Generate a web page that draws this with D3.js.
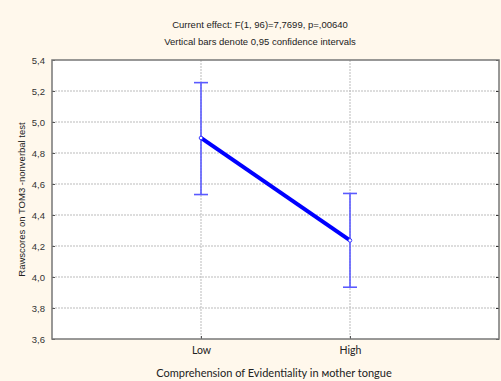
<!DOCTYPE html>
<html>
<head>
<meta charset="utf-8">
<script src="https://cdn.jsdelivr.net/npm/d3@7"></script>
<style>
  body { margin: 0; background: #fff8ec; }
  svg { display: block; }
</style>
</head>
<body>
<div id="chart"></div>
<script>
const categories = ["Low", "High"];
const means = [4.897, 4.236];
const ciLow = [4.532, 3.934];
const ciHigh = [5.254, 4.539];
const yTicks = [3.6, 3.8, 4.0, 4.2, 4.4, 4.6, 4.8, 5.0, 5.2, 5.4];
const titleLines = [
    "Current effect: F(1, 96)=7,7699, p=,00640",
    "Vertical bars denote 0,95 confidence intervals",
];

const width = 501,
    height = 381,
    margin = { top: 60, right: 2, bottom: 42, left: 52 };

const svg = d3
    .select("#chart")
    .append("svg")
    .attr("width", width)
    .attr("height", height);

svg.append("rect")
    .attr("width", width)
    .attr("height", height)
    .attr("fill", "#fff8ec");

const x = d3
    .scalePoint()
    .domain(categories)
    .range([margin.left, width - margin.right])
    .padding(1);

const y = d3
    .scaleLinear()
    .domain([3.6, 5.4])
    .range([height - margin.bottom, margin.top]);

const fmt = (d) => d3.format(".1f")(d).replace(".", ",");

// plot background
svg.append("rect")
    .attr("x", margin.left)
    .attr("y", margin.top)
    .attr("width", width - margin.right - margin.left)
    .attr("height", height - margin.bottom - margin.top)
    .attr("fill", "#fff");

// grid
svg.append("g")
    .selectAll("line")
    .data(yTicks.slice(1, -1))
    .join("line")
    .attr("x1", margin.left)
    .attr("x2", width - margin.right)
    .attr("y1", (d) => y(d))
    .attr("y2", (d) => y(d))
    .attr("stroke", "#bbb")
    .attr("stroke-dasharray", "2,1");
svg.append("g")
    .selectAll("line")
    .data(categories)
    .join("line")
    .attr("x1", (d) => x(d))
    .attr("x2", (d) => x(d))
    .attr("y1", margin.top)
    .attr("y2", height - margin.bottom)
    .attr("stroke", "#bbb")
    .attr("stroke-dasharray", "2,1");

// axes
const yAxis = svg
    .append("g")
    .attr("transform", `translate(${margin.left},0)`)
    .call(d3.axisLeft(y).tickValues(yTicks).tickFormat(fmt).tickSize(3).tickPadding(4));
yAxis.select(".domain").remove();
yAxis.selectAll(".tick line").attr("stroke", "#555").attr("x2", 3).attr("x1", 0);
yAxis.selectAll("text")
    .attr("font-family", "Liberation Sans, Arial, sans-serif")
    .attr("font-size", 9.5)
    .attr("fill", "#333");

const yAxisR = svg
    .append("g")
    .attr("transform", `translate(${width - margin.right},0)`)
    .call(d3.axisLeft(y).tickValues(yTicks).tickFormat("").tickSize(3));
yAxisR.select(".domain").remove();
yAxisR.selectAll(".tick line").attr("stroke", "#333");

const xAxis = svg
    .append("g")
    .attr("transform", `translate(0,${height - margin.bottom})`)
    .call(d3.axisTop(x).tickSize(3).tickPadding(-18));
xAxis.select(".domain").remove();
xAxis.selectAll(".tick line").attr("stroke", "#555");
xAxis.selectAll("text")
    .attr("font-family", "Lato, Open Sans, sans-serif")
    .attr("font-size", 10.5)
    .attr("fill", "#222");

// frame
svg.append("rect")
    .attr("x", margin.left)
    .attr("y", margin.top)
    .attr("width", width - margin.right - margin.left)
    .attr("height", height - margin.bottom - margin.top)
    .attr("fill", "none")
    .attr("stroke", "#777")
    .attr("stroke-width", 1.5);

// error bars
const bars = svg.append("g").attr("stroke", "#5a5aff").attr("stroke-width", 1.6);
categories.forEach((c, i) => {
    bars.append("line")
        .attr("x1", x(c)).attr("x2", x(c))
        .attr("y1", y(ciLow[i])).attr("y2", y(ciHigh[i]));
    [ciLow[i], ciHigh[i]].forEach((v) => {
        bars.append("line")
            .attr("x1", x(c) - 7).attr("x2", x(c) + 7)
            .attr("y1", y(v)).attr("y2", y(v));
    });
});

// means line
svg.append("path")
    .datum(means)
    .attr("fill", "none")
    .attr("stroke", "#0000ff")
    .attr("stroke-width", 4)
    .attr("d", d3.line().x((d, i) => x(categories[i])).y((d) => y(d)));

svg.append("g")
    .selectAll("circle")
    .data(means)
    .join("circle")
    .attr("cx", (d, i) => x(categories[i]))
    .attr("cy", (d) => y(d))
    .attr("r", 1.8)
    .attr("fill", "#fff")
    .attr("stroke", "#3a3aff")
    .attr("stroke-width", 1);

// titles
svg.append("g")
    .selectAll("text")
    .data(titleLines)
    .join("text")
    .attr("x", 260)
    .attr("y", (d, i) => 28 + i * 17)
    .attr("text-anchor", "middle")
    .attr("font-family", "Liberation Sans, Arial, sans-serif")
    .attr("font-size", 9.5)
    .attr("fill", "#222")
    .text((d) => d);

svg.append("text")
    .attr("transform", `translate(25,${(margin.top + height - margin.bottom) / 2}) rotate(-90)`)
    .attr("text-anchor", "middle")
    .attr("font-family", "Liberation Sans, Arial, sans-serif")
    .attr("font-size", 9.5)
    .attr("fill", "#222")
    .text("Rawscores on TOM3 -nonverbal test");

svg.append("text")
    .attr("x", 274)
    .attr("y", 377)
    .attr("text-anchor", "middle")
    .attr("font-family", "Lato, Open Sans, sans-serif")
    .attr("font-size", 11)
    .attr("fill", "#222")
    .text("Comprehension of Evidentiality in мother tongue");
</script>
</body>
</html>
